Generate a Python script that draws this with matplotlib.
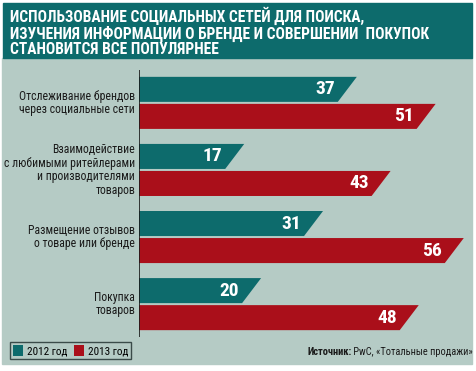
import matplotlib.pyplot as plt
from matplotlib import font_manager
from matplotlib.patches import Polygon, Rectangle, Patch

# данные
categories = [
    "Отслеживание брендов\nчерез социальные сети",
    "Взаимодействие\nс любимыми ритейлерами\nи производителями\nтоваров",
    "Размещение отзывов\nо товаре или бренде",
    "Покупка\nтоваров",
]
values_2012 = [37, 17, 31, 20]
values_2013 = [51, 43, 56, 48]
series_names = ["2012 год", "2013 год"]

title = ("ИСПОЛЬЗОВАНИЕ СОЦИАЛЬНЫХ СЕТЕЙ ДЛЯ ПОИСКА,\n"
         "ИЗУЧЕНИЯ ИНФОРМАЦИИ О БРЕНДЕ И СОВЕРШЕНИИ  ПОКУПОК\n"
         "СТАНОВИТСЯ ВСЕ ПОПУЛЯРНЕЕ")
source_bold = "Источник:"
source_text = " PwC, «Тотальные продажи»"

TEAL = "#0d6b6c"
RED = "#aa0f1a"
BG = "#b5cbc5"

# ищем узкий шрифт среди установленных
names = {f.name for f in font_manager.fontManager.ttflist}
cond = {f.name for f in font_manager.fontManager.ttflist if f.stretch not in ("normal", 500)}
FONT = dict(family="Roboto")
for cand in ["Liberation Sans Narrow", "Roboto Condensed", "Open Sans Condensed", "DejaVu Sans Condensed"]:
    if cand in names:
        FONT = dict(family=cand)
        break
else:
    if "DejaVu Sans" in cond:
        FONT = dict(family="DejaVu Sans", stretch="condensed")

W, H = 476, 371
fig = plt.figure(figsize=(W / 100, H / 100), dpi=100)
fig.patch.set_facecolor("white")


def fx(px):
    return px / W


def fy(py):
    return 1 - py / H


# фон и плашка заголовка
fig.patches.append(Rectangle((fx(2), fy(364)), fx(470), (364 - 58) / H,
                             transform=fig.transFigure, color=BG, zorder=-2))
fig.patches.append(Rectangle((fx(3), fy(58)), fx(469), 55 / H,
                             transform=fig.transFigure, color=TEAL, zorder=-2))
fig.text(fx(10), fy(32), title, color="white", fontsize=11.2, fontweight="bold",
         ha="left", va="center", linespacing=1.05, **FONT)

# оси с барами
px_per_unit = 5.63
ax_left, ax_right = 139, 472
ax_top, ax_bot = 70, 337
ax = fig.add_axes([fx(ax_left), fy(ax_bot), fx(ax_right - ax_left), (ax_bot - ax_top) / H])
ax.set_zorder(2)
ax.patch.set_alpha(0)
ax.set_xlim(0, (ax_right - ax_left) / px_per_unit)
ax.set_ylim(3.49, -0.49)
ax.axis("off")
ax.axvline(0, color="#1a1a1a", lw=1.2)

bar_h = 25 / 67
off = 13.5 / 67
slant = 19 / px_per_unit
for i, cat in enumerate(categories):
    for v, dy, col in ((values_2012[i], -off, TEAL), (values_2013[i], off, RED)):
        y0 = i + dy - bar_h / 2
        y1 = i + dy + bar_h / 2
        poly = Polygon([(0, y0), (v + slant / 2, y0), (v - slant / 2, y1), (0, y1)],
                       closed=True, color=col, lw=0)
        ax.add_patch(poly)
        ax.text(v - slant / 2 - 0.5, i + dy, str(v), color="white", fontsize=14,
                fontweight="bold", ha="right", va="center", **FONT)
    ax.text(-0.7, i, cat, ha="right", va="center", fontsize=8.5,
            color="#1a1a1a", linespacing=1.05, clip_on=False, **FONT)

# легенда
handles = [Patch(facecolor=TEAL, edgecolor="none"), Patch(facecolor=RED, edgecolor="none")]
leg = fig.legend(handles, series_names, loc="lower left",
                 bbox_to_anchor=(fx(10), fy(359)), ncol=2, frameon=True,
                 fancybox=False, borderpad=0.25, handlelength=0.9, handleheight=1.1,
                 handletextpad=0.35, columnspacing=0.6, borderaxespad=0,
                 prop=dict(size=8, **FONT))
leg.get_frame().set_facecolor(BG)
leg.get_frame().set_edgecolor("#1c2b2a")
leg.get_frame().set_linewidth(1.0)

# источник
t2 = fig.text(fx(473), fy(352), source_text, ha="right", va="center",
              fontsize=7.5, color="#1a1a1a", **FONT)
fig.canvas.draw()
bb = t2.get_window_extent()
fig.text(bb.x0 / W, fy(352), source_bold, ha="right", va="center",
         fontsize=7.5, fontweight="bold", color="#1a1a1a", **FONT)

fig.savefig("out.png", dpi=100)
